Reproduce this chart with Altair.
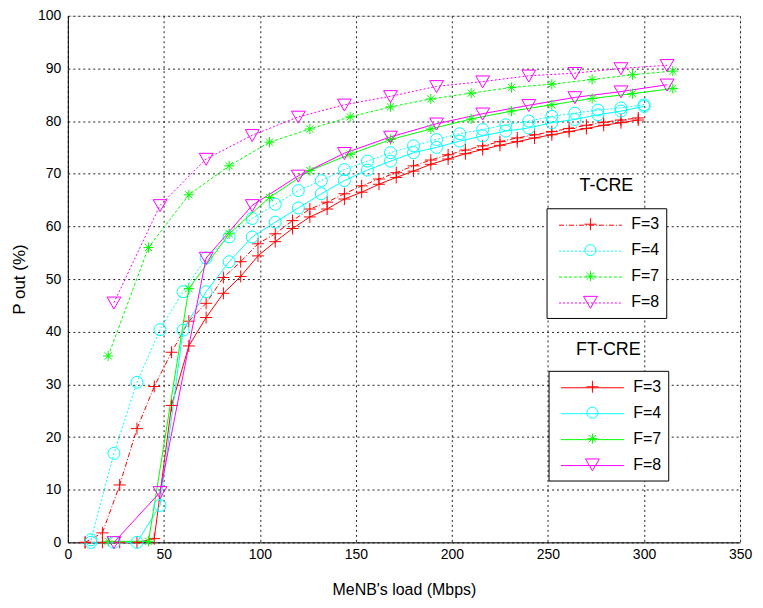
import altair as alt
import pandas as pd

SERIES = ["F=3", "F=4", "F=7", "F=8"]
COLORS = ["#ff0000", "#00ffff", "#00ff00", "#ff00ff"]
X_TICKS = [0, 50, 100, 150, 200, 250, 300, 350]
Y_TICKS = [0, 10, 20, 30, 40, 50, 60, 70, 80, 90, 100]

# ---------------- T-CRE (dotted) ----------------
t_f3_x = [9, 18, 27, 36, 45, 54, 63, 72, 81, 90, 99, 108, 117, 126, 135, 144, 153,
          162, 171, 180, 189, 198, 207, 216, 225, 234, 243, 252, 261, 270, 279, 288, 297]
t_f3_y = [0, 1.8, 10.9, 21.6, 29.6, 36.1, 42.0, 45.4, 50.3, 53.3, 56.7, 58.6, 61.1, 63.3,
          64.6, 66.2, 67.7, 69.0, 70.2, 71.5, 72.6, 73.6, 74.5, 75.3, 76.1, 76.8, 77.4,
          78.0, 78.6, 79.2, 79.8, 80.2, 80.6]
t_f4_x = [12, 24, 36, 48, 60, 72, 84, 96, 108, 120, 132, 144, 156, 168, 180, 192, 204,
          216, 228, 240, 252, 264, 276, 288, 300]
t_f4_y = [0.5, 16.9, 30.4, 40.4, 47.6, 54.0, 58.0, 61.5, 64.2, 66.8, 68.7, 70.8, 72.4,
          74.0, 75.3, 76.5, 77.6, 78.4, 79.3, 80.0, 80.9, 81.5, 82.1, 82.5, 83.1]
t_f7_x = [21, 42, 63, 84, 105, 126, 147, 168, 189, 210, 231, 252, 273, 294, 315]
t_f7_y = [35.4, 56.0, 66.0, 71.5, 76.0, 78.5, 80.8, 82.7, 84.2, 85.3, 86.4, 87.0, 87.9,
          88.8, 89.5]
t_f8_x = [24, 48, 72, 96, 120, 144, 168, 192, 216, 240, 264, 288, 312]
t_f8_y = [45.5, 64.0, 72.8, 77.3, 80.8, 83.1, 84.7, 86.6, 87.5, 88.6, 89.1, 90.0, 90.6]

# ---------------- FT-CRE (solid) ----------------
ft_f3_x = [9, 18, 27, 36, 45, 54, 63, 72, 81, 90, 99, 108, 117, 126, 135, 144, 153,
           162, 171, 180, 189, 198, 207, 216, 225, 234, 243, 252, 261, 270, 279, 288, 297]
ft_f3_y = [0, 0, 0, 0, 0.7, 26.0, 37.3, 42.7, 47.3, 50.5, 54.4, 57.1, 59.6, 61.8, 63.3,
           65.2, 66.5, 68.0, 69.3, 70.5, 71.8, 72.8, 73.8, 74.6, 75.4, 76.1, 76.8, 77.4,
           78.0, 78.6, 79.2, 79.7, 80.2]
ft_f4_x = [12, 24, 36, 48, 60, 72, 84, 96, 108, 120, 132, 144, 156, 168, 180, 192, 204,
           216, 228, 240, 252, 264, 276, 288, 300]
ft_f4_y = [0, 0, 0, 7.0, 40.3, 47.6, 53.3, 58.0, 60.8, 63.5, 66.2, 68.7, 70.7, 72.4,
           74.0, 75.0, 76.2, 77.2, 78.1, 78.7, 79.7, 80.3, 81.2, 81.9, 82.8]
ft_f7_x = [21, 42, 63, 84, 105, 126, 147, 168, 189, 210, 231, 252, 273, 294, 315]
ft_f7_y = [0.2, 0.2, 48.2, 58.6, 65.5, 70.6, 73.7, 76.5, 78.5, 80.4, 81.9, 83.1, 84.3,
           85.2, 86.2]
ft_f8_x = [24, 48, 72, 96, 120, 144, 168, 192, 216, 240, 264, 288, 312]
ft_f8_y = [0, 9.5, 54.0, 64.0, 69.6, 73.9, 77.0, 79.5, 81.4, 83.0, 84.5, 85.6, 86.9]


def frame(xs, ys, names):
    rows = []
    for x_list, y_list, name in zip(xs, ys, names):
        for xv, yv in zip(x_list, y_list):
            rows.append({"x": xv, "y": yv, "series": name})
    return pd.DataFrame(rows)


df_t = frame([t_f3_x, t_f4_x, t_f7_x, t_f8_x], [t_f3_y, t_f4_y, t_f7_y, t_f8_y], SERIES)
df_ft = frame([ft_f3_x, ft_f4_x, ft_f7_x, ft_f8_x], [ft_f3_y, ft_f4_y, ft_f7_y, ft_f8_y], SERIES)

FONT = "Liberation Sans"

# marker shapes for the plot (scaled by sqrt(size)/2)
MARKERS = ["M-1,0H1M0,-1V1", "circle",
           "M-0.85,0H0.85M0,-0.85V0.85M-0.6,-0.6L0.6,0.6M-0.6,0.6L0.6,-0.6",
           "M-1.15,-0.95L1.15,-0.95L0,1.05Z"]
# legend shapes (symbol size 3969 -> half width 31.5 px)
LEG_MARKERS = ["M-0.19,0H0.19M0,-0.19V0.19",
               "M0.175,0A0.175,0.175,0,1,1,-0.175,0A0.175,0.175,0,1,1,0.175,0Z",
               "M-0.16,0H0.16M0,-0.16V0.16M-0.115,-0.115L0.115,0.115M-0.115,0.115L0.115,-0.115",
               "M-0.22,-0.18L0.22,-0.18L0,0.2Z"]
LEG_LINE = ["M-1,0H1"] * 4
T_DASH = [[5, 2, 1, 2], [2, 2], [3, 2], [2, 2]]
LEG_SIZE = 3969

x_enc = alt.X("x:Q", scale=alt.Scale(domain=[0, 350], nice=False, zero=False),
              axis=alt.Axis(values=X_TICKS, title="MeNB's load (Mbps)", grid=True,
                            gridDash=[2, 3], gridColor="#222222", gridOpacity=1,
                            ticks=False, labelFontSize=14, titleFontSize=16,
                            labelPadding=5, titlePadding=20, labelColor="black",
                            titleColor="black", domainColor="black", labelFlush=False,
                            titleFontWeight="normal", labelFont=FONT, titleFont=FONT))
y_enc = alt.Y("y:Q", scale=alt.Scale(domain=[0, 100], nice=False),
              axis=alt.Axis(values=Y_TICKS, title="P out (%)", grid=True,
                            gridDash=[2, 3], gridColor="#222222", gridOpacity=1,
                            ticks=False, labelFontSize=14, titleFontSize=17,
                            labelPadding=7, titlePadding=9, labelColor="black",
                            titleColor="black", domainColor="black", labelFlush=False,
                            titleFontWeight="normal", labelFont=FONT, titleFont=FONT))


def color(legend=None):
    return alt.Color("series:N", scale=alt.Scale(domain=SERIES, range=COLORS),
                     legend=legend, title=None)


def shape(rng, legend=None):
    return alt.Shape("series:N", scale=alt.Scale(domain=SERIES, range=rng),
                     legend=legend, title=None)


t_lines = alt.Chart(df_t).mark_line(strokeWidth=1).encode(
    x=x_enc, y=y_enc, color=color(),
    strokeDash=alt.StrokeDash("series:N", scale=alt.Scale(domain=SERIES, range=T_DASH),
                              legend=None))
t_pts = alt.Chart(df_t).mark_point(filled=False, strokeWidth=1, size=144, opacity=1).encode(
    x=x_enc, y=y_enc, color=color(), shape=shape(MARKERS))
ft_lines = alt.Chart(df_ft).mark_line(strokeWidth=1).encode(
    x=x_enc, y=y_enc, color=color())
ft_pts = alt.Chart(df_ft).mark_point(filled=False, strokeWidth=1, size=144, opacity=1).encode(
    x=x_enc, y=y_enc, color=color(), shape=shape(MARKERS))


def box_legend(lx, ly):
    return alt.Legend(orient="none", legendX=lx, legendY=ly, title=None,
                      strokeColor="black", fillColor="white", padding=6,
                      symbolSize=LEG_SIZE, clipHeight=20, rowPadding=6,
                      symbolOffset=6, labelOffset=9, labelFont=FONT, labelFontSize=16,
                      labelColor="black", symbolStrokeWidth=1)


def line_legend(lx, ly, title, tpad):
    return alt.Legend(orient="none", legendX=lx, legendY=ly, title=title,
                      titleFont=FONT, titleFontSize=18, titleFontWeight="normal",
                      titleColor="black", titleAnchor="middle", titlePadding=tpad,
                      padding=0, symbolSize=LEG_SIZE, clipHeight=20, rowPadding=6,
                      symbolOffset=6, labelOffset=9, labelFont=FONT, labelFontSize=16,
                      labelOpacity=0, symbolStrokeWidth=1)


TBX, TBY = 480, 193
FBX, FBY = 482, 356

lb_t = box_legend(TBX, TBY)
leg_t_box = alt.Chart(df_t).transform_filter("datum.x < 0").mark_point(
    filled=False, strokeWidth=1, size=LEG_SIZE, opacity=1).encode(
    x=x_enc, y=y_enc, color=color(lb_t), shape=shape(LEG_MARKERS, lb_t))
lb_ft = box_legend(FBX, FBY)
leg_ft_box = alt.Chart(df_ft).transform_filter("datum.x < 0").mark_point(
    filled=False, strokeWidth=1, size=LEG_SIZE, opacity=1).encode(
    x=x_enc, y=y_enc, color=color(lb_ft), shape=shape(LEG_MARKERS, lb_ft))

ll_t = line_legend(TBX + 6, TBY - 31, "T-CRE", 20)
leg_t_line = alt.Chart(df_t).transform_filter("datum.x < 0").mark_point(
    filled=False, strokeWidth=1, size=LEG_SIZE, opacity=1).encode(
    x=x_enc, y=y_enc, color=color(ll_t), shape=shape(LEG_LINE, ll_t),
    strokeDash=alt.StrokeDash("series:N", scale=alt.Scale(domain=SERIES, range=T_DASH),
                              legend=ll_t, title=None))
ll_ft = line_legend(FBX + 6, FBY - 30, "FT-CRE", 19)
leg_ft_line = alt.Chart(df_ft).transform_filter("datum.x < 0").mark_point(
    filled=False, strokeWidth=1, size=LEG_SIZE, opacity=1).encode(
    x=x_enc, y=y_enc, color=color(ll_ft), shape=shape(LEG_LINE, ll_ft))

chart = alt.layer(
    t_lines, t_pts, ft_lines, ft_pts, leg_t_box, leg_ft_box, leg_t_line, leg_ft_line
).resolve_scale(
    color="independent", shape="independent", strokeDash="independent"
).properties(
    width=674, height=528, autosize="none",
    padding={"left": 60, "top": 7, "right": 15, "bottom": 57}
).configure_view(stroke="black", strokeWidth=1).configure(background="white")

chart.save("out.html", embed_options={"renderer": "svg", "actions": False})
